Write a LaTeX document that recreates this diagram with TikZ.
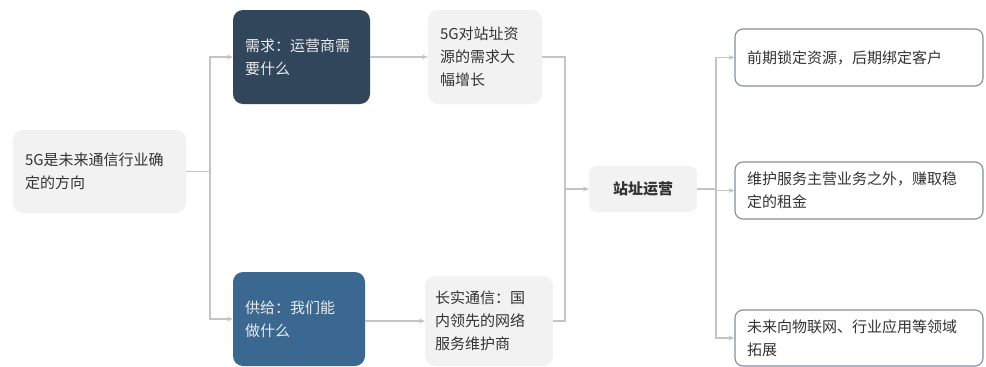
\documentclass[tikz,border=0pt]{standalone}
\usepackage{fontspec}
\setmainfont{Noto Sans CJK SC}
\usetikzlibrary{arrows.meta}
\definecolor{boxgray}{HTML}{F2F2F2}
\definecolor{darkblue}{HTML}{31465B}
\definecolor{midblue}{HTML}{3A6891}
\definecolor{linegray}{HTML}{C4C4C4}
\definecolor{txtgray}{HTML}{333333}
\definecolor{rborder}{HTML}{7F8FA0}
\tikzset{
  base/.style={rounded corners=10pt, inner xsep=12pt, inner ysep=0pt, align=left,
    font=\fontsize{15}{23}\selectfont},
  graybox/.style={base, fill=boxgray, text=txtgray},
  darkbox/.style={base, fill=darkblue, text=white!92!black},
  midbox/.style={base, fill=midblue, text=white!92!black},
  rbox/.style={base, rounded corners=8pt, draw=rborder, line width=1.1pt, fill=white, text=txtgray},
  conn/.style={draw=linegray, line width=1.1pt},
  arr/.style={conn, -{Stealth[length=6pt,width=5pt]}},
}
\begin{document}
\begin{tikzpicture}[x=1pt,y=-1pt]
\useasboundingbox (0,0) rectangle (986,367);
\node[graybox, minimum width=173pt, minimum height=83pt, text width=149pt] (A) at (99.5,171.5) {5G是未来通信行业确\\定的方向};
\node[darkbox, minimum width=137pt, minimum height=94pt, text width=113pt] (D) at (301.5,57) {需求：运营商需\\要什么};
\node[midbox, minimum width=132pt, minimum height=94pt, text width=108pt] (S) at (299,319) {供给：我们能\\做什么};
\node[graybox, minimum width=114pt, minimum height=94pt, text width=90pt] (N1) at (485,57) {5G对站址资\\源的需求大\\幅增长};
\node[graybox, inner xsep=10pt, minimum width=128pt, minimum height=90pt, text width=108pt] (N2) at (489,321) {长实通信：国\\内领先的网络\\服务维护商};
\node[graybox, rounded corners=8pt, minimum width=108pt, minimum height=46pt, align=center, font=\fontsize{15}{23}\selectfont\bfseries] (Op) at (643,189) {站址运营};
\node[rbox, minimum width=248pt, minimum height=57pt, text width=224pt] (R1) at (859,57.5) {前期锁定资源，后期绑定客户};
\node[rbox, minimum width=248pt, minimum height=57pt, text width=224pt] (R2) at (859,190.5) {维护服务主营业务之外，赚取稳\\定的租金};
\node[rbox, minimum width=248pt, minimum height=56pt, text width=224pt] (R3) at (859,338) {未来向物联网、行业应用等领域\\拓展};
\coordinate (j1) at (210,171.5);
\coordinate (j2) at (565,189);
\coordinate (j3) at (716,189);
\draw[conn] (A.east) -- (j1);
\draw[arr] (j1) |- (D.west);
\draw[arr] (j1) |- (S.west);
\draw[arr] (D.east) -- (N1.west);
\draw[arr] (S.east |- N2.west) -- (N2.west);
\draw[conn] (N1.east) -| (j2);
\draw[conn] (N2.east) -| (j2);
\draw[arr] (j2) -- (Op.west);
\draw[conn] (Op.east) -- (j3);
\draw[arr] (j3) |- (R1.west);
\draw[arr] (j3) |- (R2.west);
\draw[arr] (j3) |- (R3.west);
\end{tikzpicture}
\end{document}
